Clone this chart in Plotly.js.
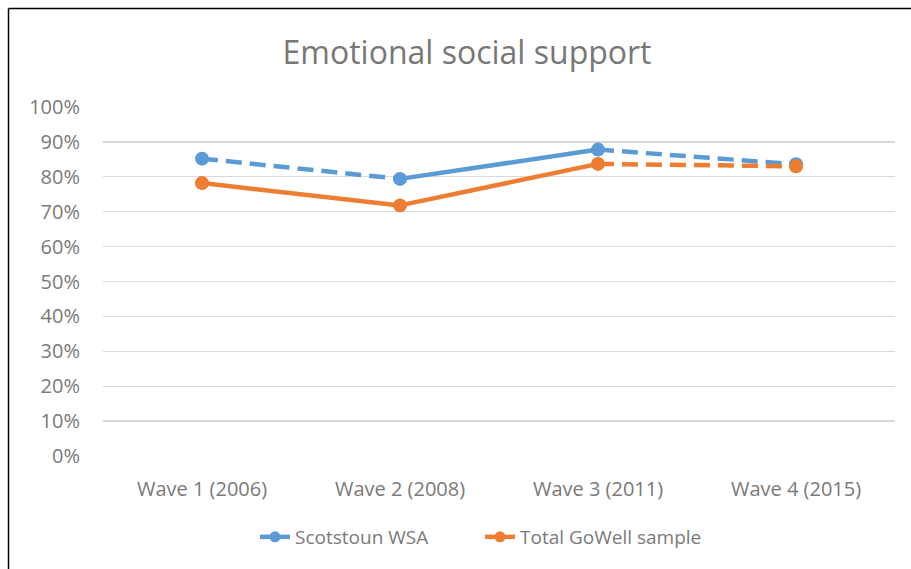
<!DOCTYPE html>
<html>
<head>
<meta charset="utf-8">
<script src="https://cdn.plot.ly/plotly-3.0.1.min.js"></script>
<style>
  html, body { margin: 0; padding: 0; background: #fff; }
  #chart { width: 911px; height: 569px; }
</style>
</head>
<body>
<div id="chart"></div>
<script>
// ---- Data ----
const categories = ['Wave 1 (2006)', 'Wave 2 (2008)', 'Wave 3 (2011)', 'Wave 4 (2015)'];
const seriesNames = ['Scotstoun WSA', 'Total GoWell sample'];
const scotstoun = [0.852, 0.794, 0.878, 0.836];
const gowell = [0.782, 0.718, 0.837, 0.830];
const yTickValues = [0, 0.1, 0.2, 0.3, 0.4, 0.5, 0.6, 0.7, 0.8, 0.9, 1.0];

// ---- Styles (segment line styles between consecutive waves) ----
const scotSegDash = ['16px,8px', 'solid', '16px,8px'];
const gowellSegDash = ['solid', 'solid', '16px,8px'];
const colors = ['#5B9BD5', '#ED7D31'];

function seriesTraces(name, values, segDash, color) {
  const traces = [];
  for (let i = 0; i < values.length - 1; i++) {
    traces.push({
      type: 'scatter',
      x: categories.slice(i, i + 2),
      y: values.slice(i, i + 2),
      mode: 'lines',
      name: name,
      showlegend: false,
      line: { color: color, width: 4.5, dash: segDash[i] },
      hoverinfo: 'skip'
    });
  }
  traces.push({
    type: 'scatter',
    x: categories,
    y: values,
    mode: 'markers',
    name: name,
    showlegend: false,
    marker: { color: color, size: 14 },
    hoverinfo: 'skip'
  });
  // legend-only entry (solid line with marker), no data drawn
  traces.push({
    type: 'scatter',
    x: [null],
    y: [null],
    mode: 'lines+markers',
    name: name,
    showlegend: true,
    line: { color: color, width: 4.5, dash: 'solid' },
    marker: { color: color, size: 11 },
    hoverinfo: 'skip'
  });
  return traces;
}

const data = [].concat(
  seriesTraces(seriesNames[0], scotstoun, scotSegDash, colors[0]),
  seriesTraces(seriesNames[1], gowell, gowellSegDash, colors[1])
);

const FONT = '"Open Sans", "Liberation Sans", sans-serif';
const GREY = '#7a7a7a';

// frame geometry in paper coordinates
const L = 103, R = 16, T = 107, B = 113, W = 911, H = 569;
const pw = W - L - R, ph = H - T - B;
const px = v => (v - L) / pw;
const py = v => (H - B - v) / ph;

const layout = {
  width: W,
  height: H,
  margin: { l: L, r: R, t: T, b: B },
  paper_bgcolor: '#ffffff',
  plot_bgcolor: '#ffffff',
  font: { family: FONT, color: GREY },
  title: {
    text: 'Emotional social support',
    font: { family: FONT, size: 32, color: '#777777' },
    x: 467 / W, xref: 'container', xanchor: 'center',
    y: 1 - 53 / H, yref: 'container', yanchor: 'middle'
  },
  xaxis: {
    type: 'category',
    categoryorder: 'array',
    categoryarray: categories,
    range: [-0.5, categories.length - 0.5],
    showgrid: false,
    showline: false,
    zeroline: false,
    ticks: '',
    ticklabelstandoff: 19,
    tickfont: { family: FONT, size: 20, color: GREY },
    fixedrange: true
  },
  yaxis: {
    range: [0, 1],
    tickvals: yTickValues,
    tickformat: '.0%',
    showgrid: true,
    gridcolor: '#d9d9d9',
    gridwidth: 1.3,
    zeroline: false,
    showline: false,
    ticks: '',
    ticklabelstandoff: 22,
    tickfont: { family: FONT, size: 20, color: GREY },
    fixedrange: true
  },
  showlegend: true,
  legend: {
    orientation: 'h',
    xref: 'container', yref: 'container',
    x: 480 / W, xanchor: 'center',
    y: 1 - 537 / H, yanchor: 'middle',
    entrywidth: 180,
    font: { family: FONT, size: 19, color: GREY },
    bgcolor: 'rgba(0,0,0,0)'
  },
  shapes: [
    { type: 'line', xref: 'paper', yref: 'paper',
      x0: px(8.5), x1: px(8.5), y0: py(8.5), y1: py(575),
      line: { color: '#000000', width: 1.5 } },
    { type: 'line', xref: 'paper', yref: 'paper',
      x0: px(8.5), x1: px(920), y0: py(8.5), y1: py(8.5),
      line: { color: '#000000', width: 1.5 } }
  ]
};

Plotly.newPlot('chart', data, layout, { staticPlot: true, displayModeBar: false });
</script>
</body>
</html>
